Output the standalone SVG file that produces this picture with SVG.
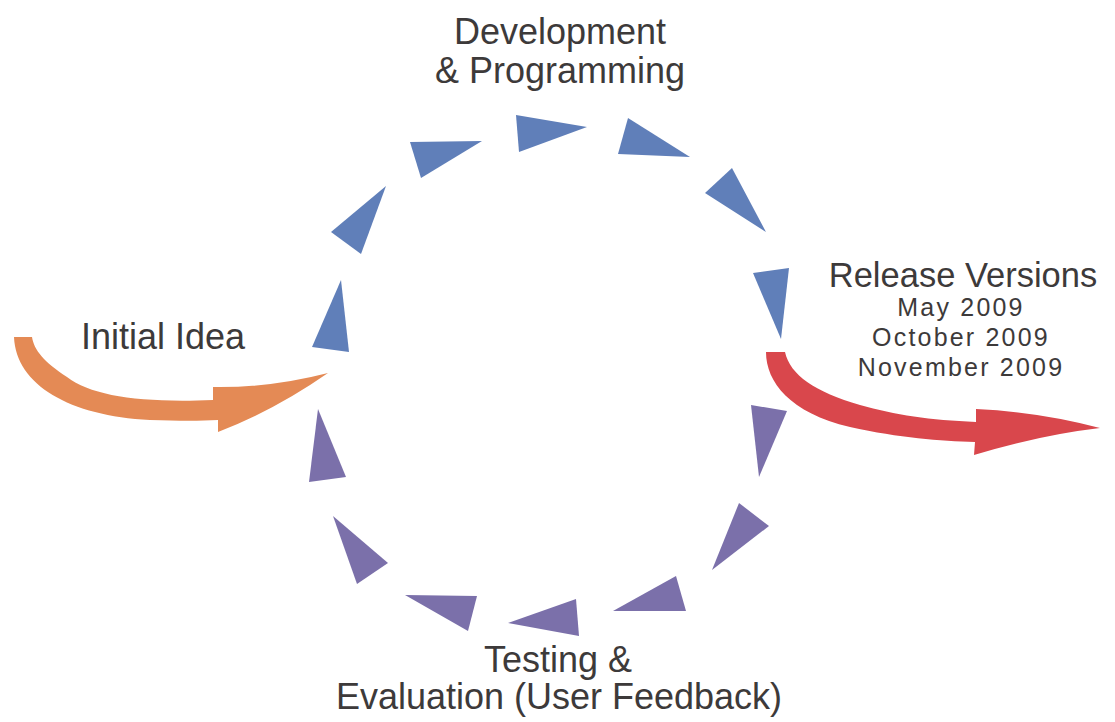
<svg xmlns="http://www.w3.org/2000/svg" width="1115" height="722" viewBox="0 0 1115 722">
  <style>
    .lbl { font-family: "Liberation Sans", Arial, sans-serif; fill: #3d3a3a; text-anchor: middle; }
    .big { font-size: 36px; }
    .mid { font-size: 34.5px; }
    .small { font-size: 25px; letter-spacing: 2.2px; }
    .dev { fill: #607fb9; }
    .test { fill: #7b70aa; }
  </style>
  <rect width="1115" height="722" fill="#ffffff"/>

  <g id="connectors">
    <!-- incoming arrow: initial idea -->
    <path id="arrow-in" fill="#e48a55" d="M14,337 C16,385 70,416 150,420 C180,421 200,421 218,420 L218,432 Q275,410 328,373 Q270,388 213,387 L213,400 C140,403 92,396 67,377 C44,362 34,350 32,337 Z"/>
    <!-- outgoing arrow: releases -->
    <path id="arrow-out" fill="#d9474c" d="M766,352 C766,382 790,413 850,427 C900,438 940,441 975,442 L974,455 Q1040,435 1100,428 Q1040,412 976,409 L976,422 C930,420 895,415 860,405 C815,392 790,375 785,352 Z"/>

    <!-- development cycle (upper half) -->
    <g id="cycle-dev" class="dev">
      <polygon points="341,280 312,347 349,352"/>
      <polygon points="386,186 331,232 361,254"/>
      <polygon points="410,142 482,141 421,178"/>
      <polygon points="516,115 587,127 519,152"/>
      <polygon points="628,118 690,157 618,154"/>
      <polygon points="732,168 705,193 766,232"/>
      <polygon points="753,273 789,268 781,339"/>
    </g>
    <!-- testing cycle (lower half) -->
    <g id="cycle-test" class="test">
      <polygon points="751,405 787,411 759,477"/>
      <polygon points="739,503 769,526 712,570"/>
      <polygon points="676,576 686,611 613,611"/>
      <polygon points="576,599 579,636 508,623"/>
      <polygon points="405,595 477,596 468,631"/>
      <polygon points="333,516 388,563 357,584"/>
      <polygon points="318,409 346,477 309,482"/>
    </g>
  </g>

  <g id="node-development">
    <text class="lbl big" x="560" y="44">Development<tspan x="560" dy="39">&amp; Programming</tspan></text>
  </g>
  <g id="node-initial">
    <text class="lbl big" x="163" y="349">Initial Idea</text>
  </g>
  <g id="node-release">
    <text class="lbl mid" x="963" y="287">Release Versions</text>
    <text class="lbl small" x="961" y="316">May 2009<tspan x="961" dy="30">October 2009</tspan><tspan x="961" dy="30">November 2009</tspan></text>
  </g>
  <g id="node-testing">
    <text class="lbl big" x="558" y="672">Testing &amp;<tspan x="559" dy="37">Evaluation (User Feedback)</tspan></text>
  </g>
</svg>
